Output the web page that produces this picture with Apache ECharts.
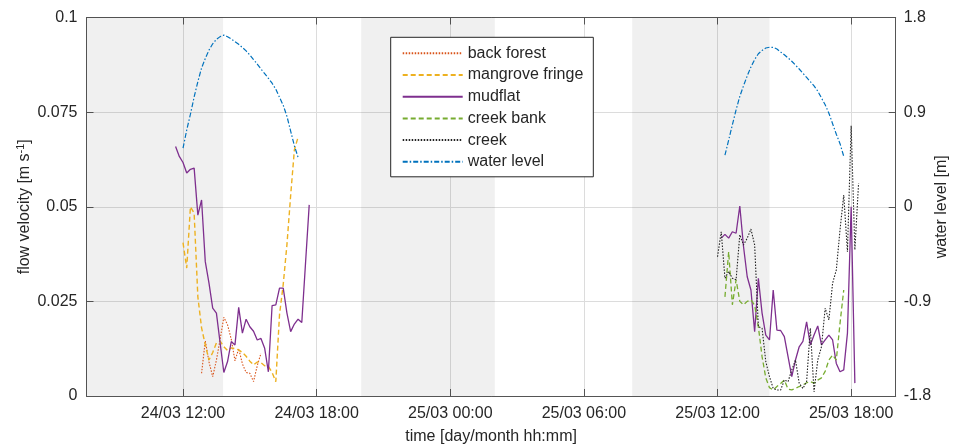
<!DOCTYPE html>
<html><head><meta charset="utf-8">
<script src="https://cdn.jsdelivr.net/npm/echarts@6/dist/echarts.min.js"></script>
<style>html,body{margin:0;padding:0;background:#fff;overflow:hidden}#c{width:956px;height:446px}</style>
</head><body><div id="c"></div>
<script>
// ---- data (flow velocity in m/s, water level in m; samples every 10 minutes) ----
const xTicks = ['24/03 12:00','24/03 18:00','25/03 00:00','25/03 06:00','25/03 12:00','25/03 18:00'];
const xRange = ['24/03 07:40','25/03 20:00'];
const leftTicks = [0, 0.025, 0.05, 0.075, 0.1];
const rightTicks = [-1.8, -0.9, 0, 0.9, 1.8];
const shadeStarts = ['24/03 07:40','24/03 20:00','25/03 08:10'];
const shadeEnds   = ['24/03 13:48','25/03 02:00','25/03 14:20'];
const stepMinutes = 10;

const backForestStart = '24/03 12:50';
const backForest = [0.0060,0.0146,0.0090,0.0051,0.0095,0.0150,0.0208,0.0188,0.0150,0.0093,0.0125,0.0085,0.0062,0.0060,0.0038,0.0080,0.0113];

const mangroveStart = '24/03 12:00';
const mangrove = [0.0405,0.0338,0.0500,0.0483,0.0262,0.0180,0.0135,0.0095,0.0115,0.0140,0.0145,0.0130,0.0120,0.0127,0.0125,0.0122,0.0115,0.0105,0.0092,0.0082,0.0090,0.0088,0.0080,0.0078,0.0062,0.0038,0.0215,0.0295,0.0400,0.0530,0.0650,0.0684];

const mudflat1Start = '24/03 11:40';
const mudflat1 = [0.0659,0.0633,0.0617,0.0589,0.0599,0.0602,0.0478,0.0518,0.0355,0.0298,0.0232,0.0219,0.0140,0.0062,0.0091,0.0144,0.0135,0.0234,0.0166,0.0203,0.0183,0.0171,0.0148,0.0152,0.0126,0.0064,0.0239,0.0241,0.0285,0.0285,0.0219,0.0170,0.0190,0.0203,0.0194,0.0350,0.0505];

const mudflat2Start = '25/03 12:10';
const mudflat2 = [0.0417,0.0427,0.0417,0.0434,0.0430,0.0502,0.0395,0.0315,0.0280,0.0170,0.0311,0.0219,0.0161,0.0148,0.0280,0.0174,0.0173,0.0157,0.0104,0.0051,0.0095,0.0130,0.0144,0.0196,0.0135,0.0161,0.0185,0.0135,0.0148,0.0161,0.0148,0.0086,0.0064,0.0069,0.0166,0.0500,0.0034];

const creekBankStart = '25/03 12:20';
const creekBank = [0.0262,0.0381,0.0241,0.0307,0.0250,0.0241,0.0250,0.0254,0.0240,0.0183,0.0104,0.0048,0.0022,0.0016,0.0025,0.0033,0.0042,0.0018,0.0016,0.0020,0.0025,0.0029,0.0035,0.0038,0.0034,0.0042,0.0048,0.0065,0.0095,0.0108,0.0095,0.0192,0.0280];

const creekStart = '25/03 12:00';
const creek = [0.0368,0.0434,0.0311,0.0329,0.0311,0.0307,0.0426,0.0399,0.0417,0.0441,0.0399,0.0183,0.0179,0.0091,0.0051,0.0020,0.0016,0.0016,0.0042,0.0038,0.0069,0.0095,0.0034,0.0020,0.0038,0.0179,0.0011,0.0095,0.0130,0.0232,0.0201,0.0298,0.0333,0.0439,0.0531,0.0381,0.0714,0.0386,0.0562];

const waterLevel1Start = '24/03 12:00';
const waterLevel1 = [0.557,0.73,0.88,1.045,1.19,1.32,1.41,1.49,1.55,1.593,1.618,1.632,1.617,1.595,1.57,1.545,1.515,1.482,1.444,1.40,1.357,1.31,1.267,1.222,1.175,1.118,1.04,0.965,0.86,0.72,0.58,0.47];

const waterLevel2Start = '25/03 12:20';
const waterLevel2 = [0.49,0.634,0.78,0.921,1.05,1.15,1.245,1.33,1.40,1.455,1.487,1.51,1.517,1.516,1.50,1.472,1.445,1.415,1.384,1.347,1.31,1.27,1.23,1.19,1.15,1.10,1.035,0.97,0.89,0.79,0.69,0.60,0.48];

const legendNames = ['back forest','mangrove fringe','mudflat','creek bank','creek','water level'];

// ---- helpers ----
function toHours(s){
  const [d,t] = s.split(' ');
  const day = +d.split('/')[0];
  const [hh,mm] = t.split(':').map(Number);
  return (day-24)*24 + hh + mm/60;
}
function fmt(h){
  const dayOff = Math.floor(h/24 + 1e-9);
  const r = h - dayOff*24;
  let hh = Math.floor(r + 1e-9);
  let mm = Math.round((r-hh)*60);
  if (mm === 60){ hh++; mm = 0; }
  return (24+dayOff) + '/03 ' + String(hh).padStart(2,'0') + ':' + String(mm).padStart(2,'0');
}
function pts(start, vals){
  const s = toHours(start);
  return vals.map((v,i)=>[s + i*stepMinutes/60, v]);
}

const FONT = "'Liberation Sans', Arial, Helvetica, sans-serif";
const TXT = '#262626';
const AX = '#555';
const GRID = '#dcdcdc';
const xTickVals = xTicks.map(toHours);
const xMin = toHours(xRange[0]), xMax = toHours(xRange[1]);

function lineSeries(name, data, color, type, width, yIdx){
  return {
    name, type:'line', data, yAxisIndex: yIdx||0, xAxisIndex:0,
    symbol:'none', showSymbol:false, smooth:false, animation:false, z:3,
    lineStyle:{color, type, width},
    itemStyle:{color}
  };
}

const chart = echarts.init(document.getElementById('c'), null, {renderer:'canvas'});
chart.setOption({
  animation:false,
  backgroundColor:'#fff',
  grid:{left:86.5, right:60.3, top:17.5, bottom:50, containLabel:false, outerBoundsMode:'none'},
  legend:{
    data: legendNames.map(n=>({name:n, itemStyle:{opacity:0}})),
    orient:'vertical', left:390.7, top:37.3,
    backgroundColor:'#fff', borderColor:'#262626', borderWidth:1,
    padding:[8,10,7,11], itemWidth:60, itemHeight:14, itemGap:5.7,
    itemStyle:{opacity:0},
    textStyle:{fontSize:16, color:TXT, fontFamily:FONT},
    selectedMode:false
  },
  xAxis:[{
    type:'value', min:xMin, max:xMax, position:'bottom', gridIndex:0,
    axisLine:{show:true, onZero:false, lineStyle:{color:AX, width:1}},
    axisTick:{show:true, inside:true, length:7, customValues:xTickVals, lineStyle:{color:AX}},
    axisLabel:{show:true, customValues:xTickVals, formatter:fmt, color:TXT, fontSize:16, margin:10, fontFamily:FONT},
    splitLine:{show:true, lineStyle:{color:GRID, width:1}},
    name:'time [day/month hh:mm]', nameLocation:'middle', nameGap:33, nameMoveOverlap:false,
    nameTextStyle:{fontSize:16, color:TXT, fontFamily:FONT}
  },{
    type:'value', min:xMin, max:xMax, position:'top', gridIndex:0,
    axisLine:{show:true, onZero:false, lineStyle:{color:AX, width:1}},
    axisTick:{show:true, inside:true, length:7, customValues:xTickVals, lineStyle:{color:AX}},
    axisLabel:{show:false}, splitLine:{show:false}
  }],
  yAxis:[{
    type:'value', min:leftTicks[0], max:leftTicks[leftTicks.length-1], interval:0.025, position:'left',
    axisLine:{show:true, onZero:false, lineStyle:{color:AX, width:1}},
    axisTick:{show:true, inside:true, length:7, lineStyle:{color:AX}},
    axisLabel:{color:TXT, fontSize:16, margin:9, fontFamily:FONT},
    splitLine:{show:true, lineStyle:{color:GRID, width:1}},
    name:'{a|flow velocity [m s}{b|-1}{a|]}', nameLocation:'middle', nameGap:53, nameRotate:90, nameMoveOverlap:false,
    nameTextStyle:{color:TXT, fontFamily:FONT, fontSize:16,
      rich:{a:{fontSize:16, color:TXT, fontFamily:FONT, lineHeight:18},
            b:{fontSize:11, color:TXT, fontFamily:FONT, verticalAlign:'top', lineHeight:11}}}
  },{
    type:'value', min:rightTicks[0], max:rightTicks[rightTicks.length-1], interval:0.9, position:'right',
    axisLine:{show:true, onZero:false, lineStyle:{color:AX, width:1}},
    axisTick:{show:true, inside:true, length:7, lineStyle:{color:AX}},
    axisLabel:{color:TXT, fontSize:16, margin:8, fontFamily:FONT},
    splitLine:{show:false},
    name:'water level [m]', nameLocation:'middle', nameGap:38, nameRotate:90, nameMoveOverlap:false,
    nameTextStyle:{color:TXT, fontSize:16, fontFamily:FONT}
  }],
  series:[
    {
      name:'shade', type:'line', data:[], xAxisIndex:0, yAxisIndex:0, z:1, silent:true,
      markArea:{silent:true, itemStyle:{color:'rgba(0,0,0,0.058)'},
        data: shadeStarts.map((s,i)=>[{xAxis:toHours(s)},{xAxis:toHours(shadeEnds[i])}])}
    },
    lineSeries('back forest', pts(backForestStart, backForest), '#D95319', [1.5,1.5], 1.1),
    lineSeries('mangrove fringe', pts(mangroveStart, mangrove), '#EDB120', [5,3], 1.4),
    lineSeries('mudflat', pts(mudflat1Start, mudflat1), '#7E2F8E', 'solid', 1.3),
    lineSeries('mudflat', pts(mudflat2Start, mudflat2), '#7E2F8E', 'solid', 1.3),
    lineSeries('creek bank', pts(creekBankStart, creekBank), '#77AC30', [5,3], 1.3),
    lineSeries('creek', pts(creekStart, creek), '#222222', [1.5,1.5], 1.1),
    lineSeries('water level', pts(waterLevel1Start, waterLevel1), '#0072BD', [5,2,1.5,2], 1.2, 1),
    lineSeries('water level', pts(waterLevel2Start, waterLevel2), '#0072BD', [5,2,1.5,2], 1.2, 1)
  ]
});
</script>
</body></html>
